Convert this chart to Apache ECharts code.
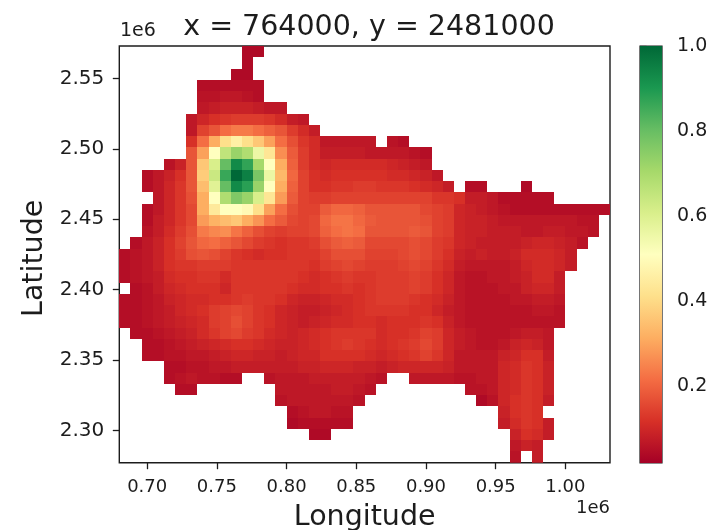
<!DOCTYPE html>
<html><head><meta charset="utf-8">
<style>html,body{margin:0;padding:0;background:#fff}#c{width:728px;height:530px}</style>
<script src="https://cdn.jsdelivr.net/npm/echarts@6/dist/echarts.min.js"></script>
</head><body><div id="c"></div>
<script>
const _ = null;
const palette = ['#a50026','#d73027','#f46d43','#fdae61','#fee08b','#ffffbf','#d9ef8b','#a6d96a','#66bd63','#1a9850','#006837'];
const xTicks = [700000,750000,800000,850000,900000,950000,1000000];
const yTicks = [2300000,2350000,2400000,2450000,2500000,2550000];
const barTicks = [0.2,0.4,0.6,0.8,1.0];
const longitudes = [684000,692000,700000,708000,716000,724000,732000,740000,748000,756000,764000,772000,780000,788000,796000,804000,812000,820000,828000,836000,844000,852000,860000,868000,876000,884000,892000,900000,908000,916000,924000,932000,940000,948000,956000,964000,972000,980000,988000,996000,1004000,1012000,1020000,1028000];
const latitudes = [2569000,2561000,2553000,2545000,2537000,2529000,2521000,2513000,2505000,2497000,2489000,2481000,2473000,2465000,2457000,2449000,2441000,2433000,2425000,2417000,2409000,2401000,2393000,2385000,2377000,2369000,2361000,2353000,2345000,2337000,2329000,2321000,2313000,2305000,2297000,2289000,2281000];
// first occupied column of each row, then values in hundredths (null = no data)
const rowStart = [11,11,10,7,7,7,6,6,6,6,4,2,2,3,2,2,2,1,0,0,0,0,0,0,0,1,2,2,4,4,5,14,15,15,17,35,35];
const row00=[2,2];
const row01=[2];
const row02=[2,2];
const row03=[3,3,3,3,3,3];
const row04=[4,4,5,5,4,3];
const row05=[5,6,7,7,7,6,5,5];
const row06=[5,8,10,11,12,12,12,11,9,6,5];
const row07=[5,13,16,20,22,22,20,18,16,12,9,6];
const row08=[10,20,30,40,45,40,35,28,20,15,11,9,5,5,5,5,5,_,4,3];
const row09=[16,28,50,65,72,68,55,42,25,17,12,9,6,6,6,6,5,5,5,5,4,3];
const row10=[4,7,16,35,60,80,93,87,70,50,30,18,12,9,8,9,9,9,9,9,8,7,6,5];
const row11=[3,5,7,10,16,36,63,86,100,95,77,55,32,19,13,10,9,10,10,10,10,10,9,9,8,7,5];
const row12=[3,5,8,11,16,33,58,80,93,88,72,50,30,18,13,10,10,11,11,12,12,11,11,11,10,9,8,6,_,3,3,_,_,_,2];
const row13=[5,8,11,15,30,50,68,76,72,60,42,27,17,13,12,12,13,13,13,13,13,13,13,13,13,11,11,10,6,6,5,3,3,3,3,3];
const row14=[3,5,8,11,14,30,43,50,50,48,40,28,20,15,13,13,17,19,19,18,16,16,16,16,16,14,13,12,8,7,6,5,4,3,3,3,3,3,3,3,3,3];
const row15=[3,6,8,11,14,27,31,33,35,30,26,20,17,14,13,14,19,21,21,19,17,16,16,16,16,15,13,12,8,7,7,6,5,5,5,5,5,5,5,4,4];
const row16=[4,6,9,12,15,22,24,25,21,18,15,13,12,13,13,14,18,20,21,20,16,16,16,16,17,16,13,12,8,7,7,6,6,6,5,5,6,6,5,5,4];
const row17=[3,5,7,10,13,16,19,20,18,16,14,12,11,10,11,11,12,15,17,18,17,14,14,14,14,15,14,12,11,8,7,6,6,6,6,7,8,8,7,6,4];
const row18=[3,4,5,7,10,12,15,16,15,13,11,10,9,10,10,11,11,11,13,15,15,15,13,13,13,14,15,14,12,10,7,6,7,6,6,7,9,9,9,8,6];
const row19=[3,4,5,7,10,11,11,12,12,12,11,11,11,11,11,11,11,10,12,13,14,13,12,12,12,13,14,13,11,9,6,5,5,5,5,6,8,9,9,8,6];
const row20=[3,4,5,6,9,10,10,11,11,9,11,11,11,11,11,11,10,9,10,11,12,11,11,12,12,12,13,12,10,8,5,4,4,5,5,6,7,9,9,6];
const row21=[_,3,4,6,8,9,10,10,10,8,11,11,11,11,11,10,9,9,10,10,11,10,11,12,12,12,13,12,10,8,5,4,4,4,5,5,7,8,8,6];
const row22=[3,3,4,5,7,8,9,9,10,10,11,12,11,11,10,8,7,7,8,9,9,10,11,12,12,12,11,10,9,7,5,4,4,4,4,5,5,6,6,5];
const row23=[3,3,4,5,6,8,9,10,12,13,14,13,11,10,8,7,6,6,7,8,9,10,11,11,11,11,10,10,8,6,5,4,4,4,4,4,4,5,5,4];
const row24=[3,3,4,5,6,7,8,9,12,13,15,13,11,10,8,7,6,7,8,9,9,10,10,9,10,10,10,11,10,7,5,4,4,4,4,4,4,4,4,4];
const row25=[3,3,4,5,6,7,9,11,13,14,12,11,9,8,7,8,9,10,11,11,11,11,9,10,10,11,13,12,8,6,5,4,4,4,5,6,6,5];
const row26=[3,3,4,5,6,7,8,9,10,10,9,8,7,7,8,9,10,11,12,11,10,9,10,11,12,14,12,8,6,5,4,4,5,7,8,7,5];
const row27=[3,3,4,4,5,5,6,7,8,8,7,7,6,7,8,8,10,10,10,10,9,8,9,10,11,13,11,8,5,5,5,5,7,8,10,10,6];
const row28=[3,3,4,4,5,5,6,6,6,6,6,6,7,7,8,8,8,7,7,6,7,8,8,8,8,7,5,5,5,5,8,9,11,10,7];
const row29=[3,4,5,4,4,3,3,_,_,4,5,5,5,6,6,6,6,6,5,4,_,_,5,5,5,5,4,4,5,5,8,9,11,10,7];
const row30=[3,3,_,_,_,_,_,_,_,5,5,5,5,5,6,6,5,4,_,_,_,_,_,_,_,_,4,4,5,8,9,11,10,7];
const row31=[4,5,5,5,5,5,5,4,_,_,_,_,_,_,_,_,_,_,2,4,8,10,11,10,6];
const row32=[3,4,5,5,4,4,_,_,_,_,_,_,_,_,_,_,_,_,_,7,10,11,10];
const row33=[2,3,3,3,3,3,_,_,_,_,_,_,_,_,_,_,_,_,_,6,9,11,10,6];
const row34=[2,2,_,_,_,_,_,_,_,_,_,_,_,_,_,_,_,_,7,10,9,6];
const row35=[5,7,6];
const row36=[4,_,6];
const rows=[row00,row01,row02,row03,row04,row05,row06,row07,row08,row09,row10,row11,row12,row13,row14,row15,row16,row17,row18,row19,row20,row21,row22,row23,row24,row25,row26,row27,row28,row29,row30,row31,row32,row33,row34,row35,row36];

const cells = [];
rows.forEach((r,i)=>r.forEach((v,k)=>{ if(v!==null) cells.push([longitudes[rowStart[i]+k],latitudes[i],v/100]); }));

const font = 'DejaVu Sans';
const ink = '#1c1c1c';
const chart = echarts.init(document.getElementById('c'),null,{renderer:'canvas'});
chart.setOption({
  animation:false,
  backgroundColor:'#fff',
  textStyle:{fontFamily:font,color:ink},
  title:{text:'x = 764000, y = 2481000',left:364,top:8,textAlign:'center',textStyle:{fontFamily:font,fontWeight:'normal',fontSize:28.5,color:ink}},
  grid:[
    {left:119.3,top:46,width:490.7,height:416.7,outerBoundsMode:'none',show:true,borderColor:ink,borderWidth:1.4,backgroundColor:'#fff'},
    {left:640,top:46,width:22,height:417,outerBoundsMode:'none',show:true,borderColor:ink,borderWidth:1.2,backgroundColor:'transparent'}
  ],
  xAxis:[
    {type:'value',gridIndex:0,min:680000,max:1032000,name:'Longitude',nameLocation:'middle',nameGap:40,nameTextStyle:{fontSize:28.5,color:ink,fontFamily:font},
     splitLine:{show:false},axisLine:{show:false},
     axisTick:{show:true,length:6.5,lineStyle:{color:ink,width:1.3},customValues:xTicks},
     axisLabel:{color:ink,fontSize:18,fontFamily:font,margin:16,customValues:xTicks,formatter:v=>(v/1e6).toFixed(2)}},
    {type:'value',gridIndex:1,min:0,max:1,show:false}
  ],
  yAxis:[
    {type:'value',gridIndex:0,min:2277000,max:2573000,name:'Latitude',nameLocation:'middle',nameGap:58,nameRotate:90,nameTextStyle:{fontSize:28.5,color:ink,fontFamily:font,padding:[0,8,0,0]},
     splitLine:{show:false},axisLine:{show:false},
     axisTick:{show:true,length:6.5,lineStyle:{color:ink,width:1.3},customValues:yTicks},
     axisLabel:{color:ink,fontSize:20,fontFamily:font,margin:15,customValues:yTicks,formatter:v=>(v/1e6).toFixed(2)}},
    {type:'value',gridIndex:1,min:0.02,max:1,position:'right',splitLine:{show:false},axisLine:{show:false},
     axisTick:{show:true,length:6.5,lineStyle:{color:ink,width:1.3},customValues:barTicks},
     axisLabel:{color:ink,fontSize:19,fontFamily:font,margin:15,customValues:barTicks,formatter:v=>v.toFixed(1)}}
  ],
  visualMap:{show:false,type:'continuous',seriesIndex:0,dimension:2,min:0,max:1,inRange:{color:palette}},
  series:[
    {type:'custom',xAxisIndex:0,yAxisIndex:0,data:cells,silent:true,clip:true,
     renderItem:(params,api)=>{
       const a=api.coord([api.value(0)-4000,api.value(1)+4000]);
       const b=api.coord([api.value(0)+4000,api.value(1)-4000]);
       const x0=Math.round(a[0]),y0=Math.round(a[1]),x1=Math.round(b[0]),y1=Math.round(b[1]);
       return {type:'rect',shape:{x:x0,y:y0,width:x1-x0,height:y1-y0},style:{fill:api.visual('color')}};
     }},
    {type:'custom',xAxisIndex:1,yAxisIndex:1,data:[[0,0.02,1,1]],silent:true,z:1,
     renderItem:(params,api)=>{
       const a=api.coord([api.value(0),api.value(2)]);
       const b=api.coord([api.value(3),api.value(1)]);
       return {type:'rect',shape:{x:a[0],y:a[1],width:b[0]-a[0],height:b[1]-a[1]},
         style:{fill:{type:'linear',x:0,y:1,x2:0,y2:0,colorStops:palette.map((c,i)=>({offset:i/10,color:c}))}}};
     }}
  ],
  graphic:[
    {type:'text',left:120,top:22,style:{text:'1e6',font:'19px "DejaVu Sans"',fill:ink}},
    {type:'text',left:576,top:499,style:{text:'1e6',font:'18px "DejaVu Sans"',fill:ink}}
  ]
});
</script></body></html>
